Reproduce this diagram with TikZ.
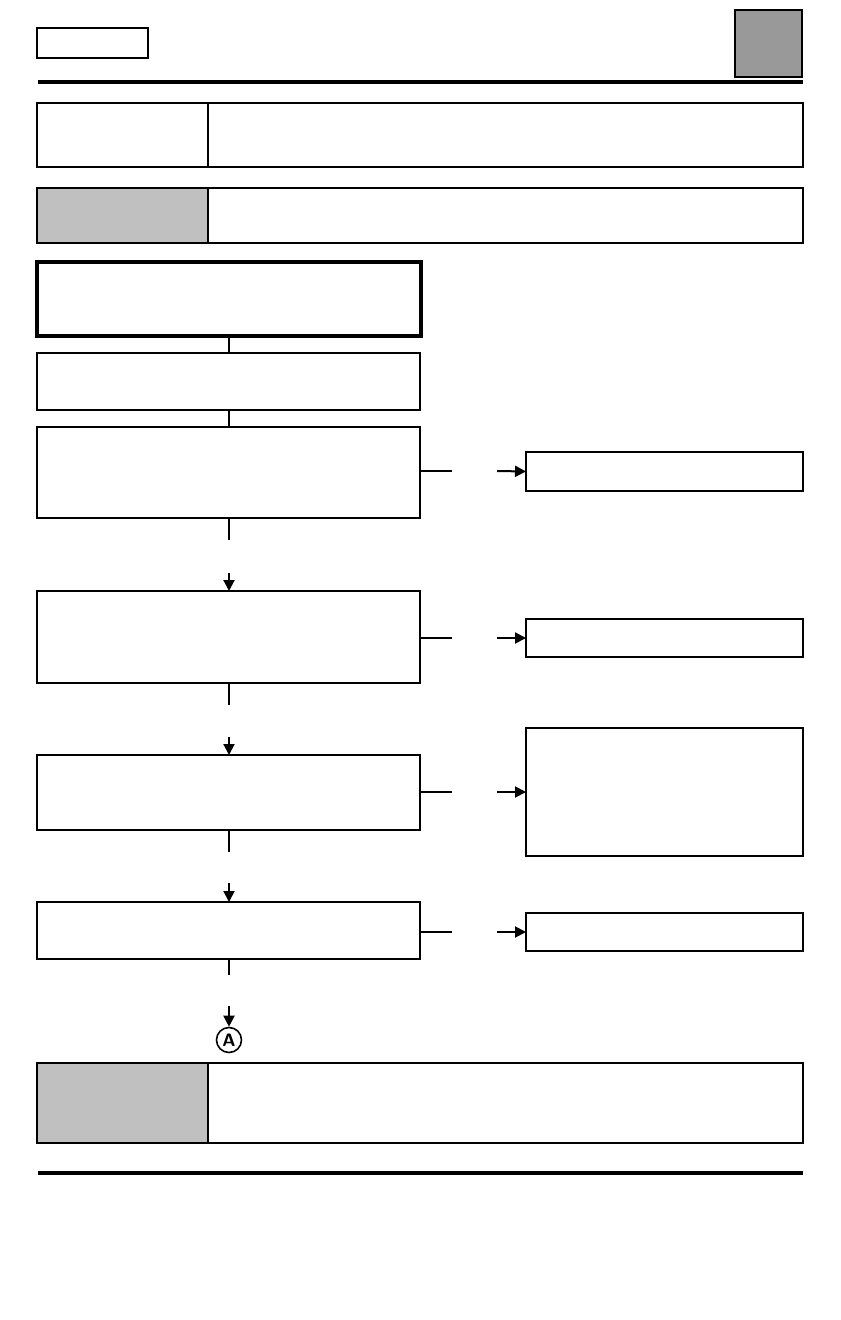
\documentclass[tikz,border=0pt]{standalone}
\usetikzlibrary{fit,arrows.meta}
\definecolor{lgray}{HTML}{C0C0C0}
\definecolor{dgray}{HTML}{999999}
\tikzset{
  px/.style={x=0.5pt,y=-0.5pt},
  frame/.style={draw=black,line width=1pt,inner sep=0pt,outer sep=0pt},
  heavy/.style={draw=black,line width=1.6pt,inner sep=0pt,outer sep=0pt},
  flowbox/.style={draw=black,line width=0.6pt,inner sep=0pt,outer sep=0pt},
  sidebox/.style={draw=black,line width=0.9pt,inner sep=0pt,outer sep=0pt},
  shade/.style={line width=1.2pt},
  link/.style={line width=1pt},
  arr/.style={line width=1pt,-{Triangle[length=5.5pt,width=5.5pt]}},
  rule/.style={line width=1.6pt}
}
\begin{document}
\begin{tikzpicture}[px]
\useasboundingbox (0,0) rectangle (840,1320);
% header
\node[frame,fit={(37,28) (148,58)}] (tag) {};
\node[frame,fill=dgray,fit={(735,10) (802,77)}] (sq) {};
\coordinate (r1a) at (38,82); \coordinate (r1b) at (803,82);
\draw[rule] (r1a) -- (r1b);
% info boxes
\node[frame,fit={(37,103) (803,167)}] (info1) {};
\node[frame,fit={(37,103) (208,167)}] (info1l) {};
\node[frame,fill=lgray,fit={(37,188) (208,243)}] (info2l) {};
\node[frame,fit={(37,188) (803,243)}] (info2) {};
% flow
\node[heavy,fit={(37,262) (421,336)}] (f1) {};
\node[flowbox,fit={(37,353) (420,410)}] (f2) {};
\node[flowbox,fit={(37,427) (420,518)}] (f3) {};
\node[flowbox,fit={(37,591) (420,683)}] (f4) {};
\node[flowbox,fit={(37,755) (420,830)}] (f5) {};
\node[flowbox,fit={(37,902) (420,959)}] (f6) {};
\foreach \n in {f2,f3,f4,f5,f6}{
  \draw[shade] ([yshift=0.3pt]\n.north east) -- ([yshift=-0.6pt]\n.south east);
}
\node[sidebox,fit={(526,452) (803,491)}] (s3) {};
\node[sidebox,fit={(526,619) (803,657)}] (s4) {};
\node[sidebox,fit={(526,728) (803,856)}] (s5) {};
\node[sidebox,fit={(526,913) (803,951)}] (s6) {};
% vertical links (column x = 229)
\coordinate (col) at (229,0);
\draw[link] (f1.south -| col) -- (f2.north -| col);
\draw[link] (f2.south -| col) -- (f3.north -| col);
\coordinate (d3a) at (229,540); \coordinate (d3b) at (229,573);
\draw[link] (f3.south -| col) -- (d3a);
\draw[arr] (d3b) -- (f4.north -| col);
\coordinate (d4a) at (229,705); \coordinate (d4b) at (229,737);
\draw[link] (f4.south -| col) -- (d4a);
\draw[arr] (d4b) -- (f5.north -| col);
\coordinate (d5a) at (229,852); \coordinate (d5b) at (229,883);
\draw[link] (f5.south -| col) -- (d5a);
\draw[arr] (d5b) -- (f6.north -| col);
\node[circle,draw,line width=0.8pt,minimum size=12.5pt,inner sep=0pt,font=\sffamily\bfseries\small] (A) at (229,1040) {A};
\coordinate (d6a) at (229,975); \coordinate (d6b) at (229,1006);
\draw[link] (f6.south -| col) -- (d6a);
\draw[arr] (d6b) -- (A.north);
% side links
\coordinate (h3a) at (452,471); \coordinate (h3b) at (497,471);
\draw[link] (f3.east |- h3a) -- (h3a);
\draw[arr] (h3b) -- (s3.west);
\coordinate (h4a) at (452,638); \coordinate (h4b) at (497,638);
\draw[line width=0.6pt] (f4.east |- h4a) -- (h4a);
\draw[arr] (h4b) -- (s4.west);
\coordinate (h5a) at (452,792); \coordinate (h5b) at (497,792);
\draw[link] (f5.east |- h5a) -- (h5a);
\draw[arr] (h5b) -- (s5.west);
\coordinate (h6a) at (452,932); \coordinate (h6b) at (497,932);
\draw[line width=0.6pt] (f6.east |- h6a) -- (h6a);
\draw[arr] (h6b) -- (s6.west);
% bottom box
\node[frame,fill=lgray,fit={(37,1063) (208,1143)}] (botl) {};
\node[frame,fit={(37,1063) (803,1143)}] (bot) {};
\coordinate (r2a) at (38,1173); \coordinate (r2b) at (803,1173);
\draw[rule] (r2a) -- (r2b);
\end{tikzpicture}
\end{document}
